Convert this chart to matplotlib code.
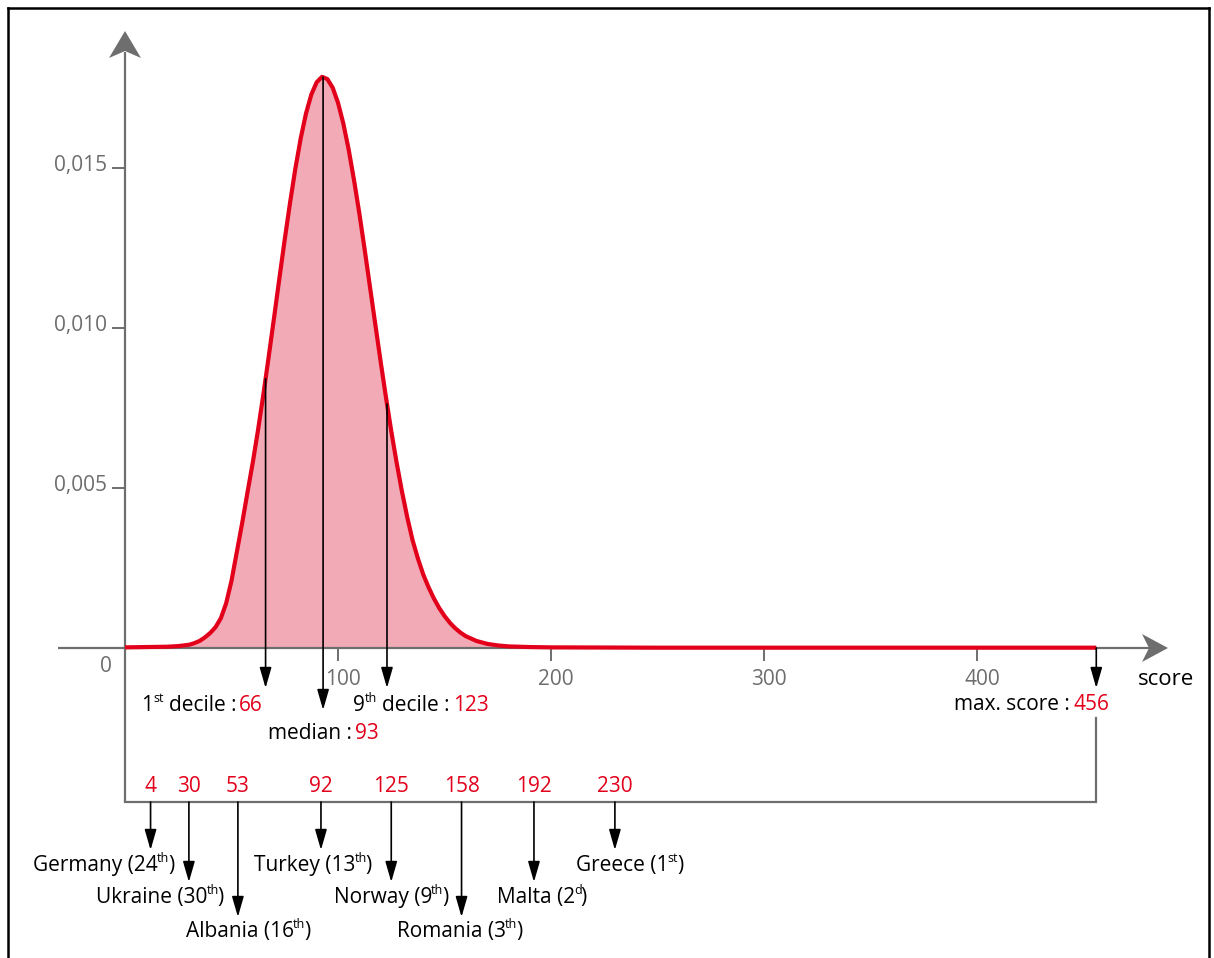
import numpy as np
import matplotlib
matplotlib.use("Agg")
import matplotlib.pyplot as plt
from matplotlib.patches import Polygon
from matplotlib.lines import Line2D
from matplotlib.transforms import ScaledTranslation

# ---------------- data ----------------
dens_x = [0, 10, 20, 25, 30, 32.5, 35, 37.5, 40, 42.5, 45, 47.5, 50, 52.5, 55, 57.5,
          60, 62.5, 65, 67.5, 70, 72.5, 75, 77.5, 80, 82.5, 85, 87.5, 90, 92.5, 95,
          97.5, 100, 102.5, 105, 107.5, 110, 112.5, 115, 117.5, 120, 122.5, 125,
          127.5, 130, 132.5, 135, 137.5, 140, 142.5, 145, 147.5, 150, 152.5, 155,
          157.5, 160, 165, 170, 175, 180, 190, 200, 250, 456]
dens_y = [0.00002, 0.00003, 0.00004, 0.00006, 0.00010, 0.00015, 0.00022, 0.00033,
          0.00047, 0.00065, 0.00093, 0.00140, 0.00210, 0.00300, 0.00390, 0.00486,
          0.00580, 0.00683, 0.00794, 0.00912, 0.01033, 0.01156, 0.01277, 0.01392,
          0.01499, 0.01593, 0.01671, 0.01730, 0.01768, 0.01785, 0.01778, 0.01751,
          0.01704, 0.01639, 0.01558, 0.01463, 0.01359, 0.01246, 0.01129, 0.01012,
          0.00896, 0.00784, 0.00678, 0.00580, 0.00490, 0.00409, 0.00337, 0.00280,
          0.00230, 0.00190, 0.00155, 0.00125, 0.00100, 0.00079, 0.00062, 0.00048,
          0.00037, 0.00022, 0.00013, 0.00008, 0.00005, 0.00003, 0.00002, 0.00001,
          0.00001]

first_decile = 66
median = 93
ninth_decile = 123
max_score = 456

y_ticks = [0.005, 0.010, 0.015]
x_ticks = [100, 200, 300, 400]

countries = ["Germany", "Ukraine", "Albania", "Turkey", "Norway", "Romania", "Malta", "Greece"]
country_scores = [4, 30, 53, 92, 125, 158, 192, 230]
rank_numbers = ["24", "30", "16", "13", "9", "3", "2", "1"]
rank_suffixes = ["th", "th", "th", "th", "th", "th", "d", "st"]

# ---------------- layout ----------------
W, H = 1214, 958
DPI = 100
X0, SX = 125, 2.13      # pixel of score 0, pixels per score unit
Y0, SY = 648, 32000     # pixel of density 0, pixels per density unit

FONT = "Open Sans"
RED = "#e2001a"
PINK = "#f2abb6"
GRAY = "#6e6e6e"
FS = 15


def px_x(p):
    return (p - X0) / SX


def px_y(p):
    return (Y0 - p) / SY


fig = plt.figure(figsize=(W / DPI, H / DPI), dpi=DPI)
ax = fig.add_axes([0, 0, 1, 1])
ax.set_xlim(px_x(0), px_x(W))
ax.set_ylim(px_y(H), px_y(0))
ax.axis("off")
renderer = fig.canvas.get_renderer()

# frame around the picture
for xs, ys in [([8, 8], [8, H + 5]), ([8, 1209], [8, 8]), ([1209, 1209], [8, H + 5])]:
    fig.add_artist(Line2D([x / W for x in xs], [1 - y / H for y in ys],
                          transform=fig.transFigure, color="black", lw=1.8))

# ---------------- axes ----------------
ax.plot([0, 0], [px_y(802), px_y(52)], color=GRAY, lw=1.6, zorder=2,
        solid_capstyle="butt")
ax.plot([px_x(58), px_x(1150)], [0, 0], color=GRAY, lw=1.6, zorder=2,
        solid_capstyle="butt")
# arrow heads (pixel offsets)
up = [(0, 0), (-16, 27), (0, 20), (16, 27)]
ax.add_patch(Polygon([(px_x(125 + dx), px_y(31 + dy)) for dx, dy in up],
                     closed=True, color=GRAY, zorder=3, lw=0))
right = [(0, 0), (-26, -14), (-19, 0), (-26, 14)]
ax.add_patch(Polygon([(px_x(1168 + dx), px_y(648 + dy)) for dx, dy in right],
                     closed=True, color=GRAY, zorder=3, lw=0))

# bracket
ax.plot([0, max_score, max_score], [px_y(802), px_y(802), px_y(718)],
        color=GRAY, lw=1.6, zorder=2, solid_joinstyle="miter")

# ticks
for v in y_ticks:
    ax.plot([px_x(113), 0], [v, v], color=GRAY, lw=1.4)
    ax.text(px_x(107), v, f"{v:.3f}".replace(".", ","), fontsize=FS, family=FONT,
            color=GRAY, ha="right", va="baseline",
            transform=ax.transData + ScaledTranslation(0, -3 / DPI, fig.dpi_scale_trans))
for v in x_ticks:
    ax.plot([v, v], [px_y(650), px_y(660)], color=GRAY, lw=1.4)
    ax.text(v + 5 / SX, px_y(685), str(v), fontsize=FS, family=FONT, color=GRAY,
            ha="center", va="baseline")
ax.text(px_x(106), px_y(672), "0", fontsize=FS, family=FONT, color=GRAY,
        ha="center", va="baseline")
ax.text(px_x(1138), px_y(685), "score", fontsize=FS + 1, family=FONT, color="black",
        ha="left", va="baseline")

# ---------------- curve ----------------
ax.fill_between(dens_x, dens_y, 0, color=PINK, lw=0, zorder=1)
ax.plot(dens_x, dens_y, color=RED, lw=3.0, zorder=5, solid_capstyle="butt",
        solid_joinstyle="round")


def arrow(x, y_from, y_to, z=6):
    ax.annotate("", xy=(x, y_to), xytext=(x, y_from),
                arrowprops=dict(arrowstyle="-|>,head_length=1.25,head_width=0.36",
                                mutation_scale=10, color="black", lw=1.2,
                                shrinkA=0, shrinkB=0), zorder=z)


def rich(x, ybase, pieces, ha="center", fs=FS):
    """pieces: (text, color, is_sup, gap_px_before)"""
    items = []
    for s, c, sup, gap in pieces:
        t = ax.text(x, ybase, s, fontsize=fs * (0.6 if sup else 1.0), family=FONT,
                    color=c, ha="left", va="baseline", zorder=7)
        w = t.get_window_extent(renderer).width
        items.append((t, sup, gap, w))
    total = sum(g + w for _, _, g, w in items)
    off = {"left": 0, "center": -total / 2, "right": -total}[ha]
    for t, sup, gap, w in items:
        off += gap
        dy = fs * 0.42 if sup else 0
        t.set_transform(ax.transData +
                        ScaledTranslation(off / DPI, dy / 72, fig.dpi_scale_trans))
        off += w


def curve_at(v):
    return float(np.interp(v, dens_x, dens_y))


# deciles / median / max
arrow(first_decile, curve_at(first_decile), px_y(688))
arrow(median, curve_at(median), px_y(710))
arrow(ninth_decile, curve_at(ninth_decile), px_y(688))
arrow(max_score, 0, px_y(688))

rich(px_x(263), px_y(711), [("1", "black", False, 0), ("st", "black", True, 0),
                            ("decile :", "black", False, 5), (str(first_decile), RED, False, 3)],
     ha="right")
rich(median, px_y(739), [("median :", "black", False, 0), (str(median), RED, False, 3)],
     ha="center")
rich(px_x(353), px_y(711), [("9", "black", False, 0), ("th", "black", True, 0),
                            ("decile :", "black", False, 5), (str(ninth_decile), RED, False, 3)],
     ha="left")
rich(px_x(1109), px_y(710), [("max. score :", "black", False, 0),
                             (str(max_score), RED, False, 3)], ha="right")

# ---------------- countries ----------------
tier_of = [0, 1, 2, 0, 1, 2, 1, 0]
label_dx = [-47, -29, 10, -8, 0, -2, 8, 15]
tip_px = [850, 882, 917]
base_px = [871, 903, 937]
min_pos = 12  # keep the first arrow clear of the bracket corner

for name, sc, rn, rs, tier, dx in zip(countries, country_scores, rank_numbers,
                                      rank_suffixes, tier_of, label_dx):
    xpos = max(sc, min_pos)
    ax.text(xpos, px_y(792), str(sc), fontsize=FS, family=FONT, color=RED,
            ha="center", va="baseline")
    arrow(xpos, px_y(802), px_y(tip_px[tier]))
    rich(xpos + dx / SX, px_y(base_px[tier]),
         [(f"{name} ({rn}", "black", False, 0), (rs, "black", True, -1),
          (")", "black", False, -1)], ha="center")

fig.savefig("out.png", dpi=DPI)
